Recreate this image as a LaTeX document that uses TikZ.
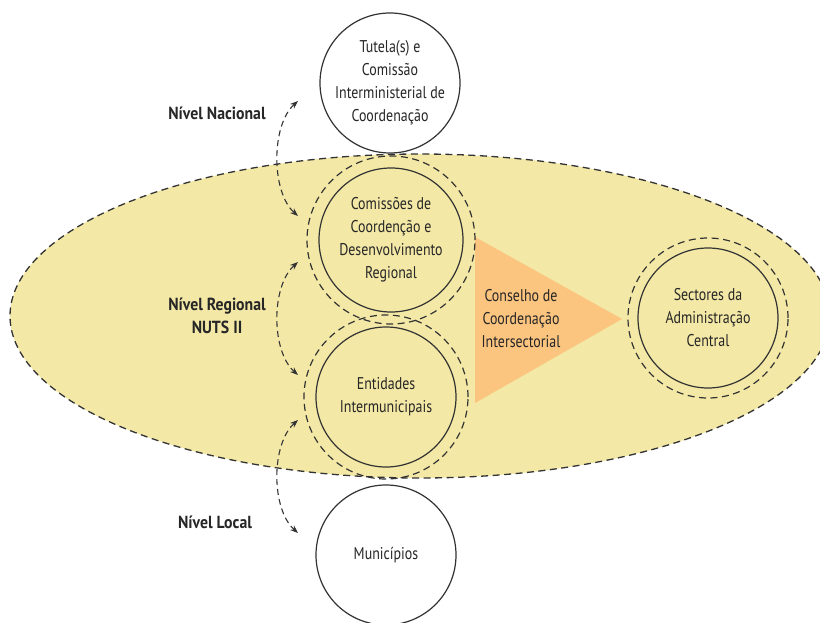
\documentclass[tikz,border=0pt]{standalone}
\usepackage{fontspec}
\setmainfont[FakeStretch=0.82]{PT Sans}
\newfontfamily\lblfont[FakeStretch=0.9]{PT Sans}
\usetikzlibrary{arrows.meta}
\definecolor{ellfill}{HTML}{F3E8A6}
\definecolor{trifill}{HTML}{FBC47F}
\definecolor{ink}{HTML}{333333}
\definecolor{txt}{HTML}{262626}
\tikzset{
  ring/.style={circle,draw=ink,line width=1.2pt,minimum size=140pt,inner sep=0pt,align=center,text=txt,font=\fontsize{17}{23}\selectfont},
  halo/.style={circle,draw=ink,line width=1.2pt,dash pattern=on 7pt off 4.5pt,inner sep=0pt},
  lvl/.style={align=center,text=txt,font=\lblfont\bfseries\fontsize{17.5}{23}\selectfont},
  flow/.style={draw=ink,line width=1.1pt,dash pattern=on 6pt off 4pt,{Stealth[length=8pt,width=6pt]}-{Stealth[length=8pt,width=6pt]}},
}
\begin{document}
\begin{tikzpicture}[x=1pt,y=-1pt]
\useasboundingbox (0,0) rectangle (820,623);
\clip (0,0) rectangle (820,623);
% regional ellipse
\draw[fill=ellfill,draw=ink,line width=1.3pt,dash pattern=on 7pt off 4.5pt] (420,316) ellipse [x radius=410, y radius=162];
% triangle
\fill[trifill] (475,237) -- (475,403) -- (622,319) -- cycle;
\node[align=center,text=txt,font=\fontsize{17}{23}\selectfont] (cci) at (521,319) {Conselho de\\Coordenação\\Intersectorial};
% circles
\node[ring,fill=white] (tut) at (390,83) {Tutela(s) e\\Comissão\\Interministerial de\\Coordenação};
\node[ring,minimum size=144pt] (ccdr) at (391,240) {Comissões de\\Coordenção e\\Desenvolvimento\\Regional};
\node[halo,minimum size=168pt] (ccdrh) at (391,240) {};
\node[ring] (ei) at (386,397) {Entidades\\Intermunicipais};
\node[halo,minimum size=164pt] (eih) at (386,397) {};
\node[ring,fill=white] (mun) at (386,555) {Municípios};
\node[ring] (sac) at (708,318) {Sectores da\\Administração\\Central};
\node[halo,minimum size=160pt] (sach) at (708,318) {};
% level labels
\node[lvl] (ln) at (217,113) {Nível Nacional};
\node[lvl] (lr) at (217,316) {Nível Regional\\NUTS II};
\node[lvl] (ll) at (215,522) {Nível Local};
% arrow end points
\coordinate (a1) at (298,101);
\coordinate (a2) at (298,216);
\coordinate (b1) at (298,262);
\coordinate (b2) at (298,375);
\coordinate (c1) at (298,420);
\coordinate (c2) at (298,533);
\draw[flow] (a1) .. controls (271,125) and (271,192) .. (a2);
\draw[flow] (b1) .. controls (271,286) and (271,351) .. (b2);
\draw[flow] (c1) .. controls (271,444) and (271,509) .. (c2);
\end{tikzpicture}
\end{document}
